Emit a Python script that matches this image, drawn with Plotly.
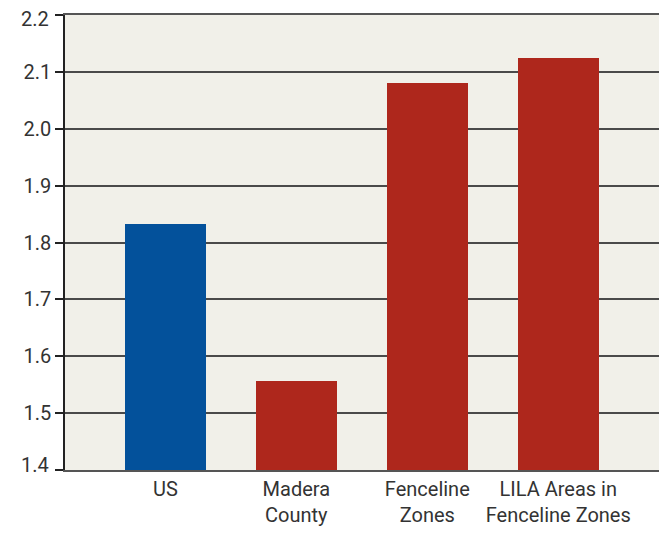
import plotly.graph_objects as go

# Data
categories = ["US", "Madera<br>County", "Fenceline<br>Zones", "LILA Areas in<br>Fenceline Zones"]
values = [1.833, 1.557, 2.081, 2.124]
colors = ["#03519B", "#AE271C", "#AE271C", "#AE271C"]
tick_vals = [1.4, 1.5, 1.6, 1.7, 1.8, 1.9, 2.0, 2.1, 2.2]
tick_text = ["1.4", "1.5", "1.6", "1.7", "1.8", "1.9", "2.0", "2.1", "2.2"]

fig = go.Figure(
    go.Bar(
        x=categories,
        y=values,
        marker=dict(color=colors, line=dict(width=0)),
        width=0.62,
    )
)

# page body adds an 8px offset, so the figure is a bit smaller than the window
fig.update_layout(
    width=659,
    height=527,
    margin=dict(l=57, r=2, t=7, b=65),
    paper_bgcolor="white",
    plot_bgcolor="#F1F0E9",
    font=dict(family="Roboto, sans-serif", size=20, color="#333333"),
    showlegend=False,
    bargap=0,
)

fig.update_xaxes(
    range=[-0.766, 3.815],
    showline=True,
    linecolor="#555555",
    linewidth=1.5,
    mirror=True,
    ticks="",
    automargin=False,
    ticklabeloverflow="allow",
    tickfont=dict(size=20, color="#333333"),
)

# end labels are nudged inward (as in the original), so draw them as annotations
inner_text = [""] + tick_text[1:-1] + [""]
fig.update_yaxes(
    range=[1.4, 2.2],
    tickvals=tick_vals,
    ticktext=inner_text,
    showgrid=True,
    gridcolor="#4a4a4a",
    gridwidth=1.5,
    showline=True,
    linecolor="#222222",
    linewidth=1.5,
    mirror=True,
    ticks="outside",
    ticklen=8,
    tickwidth=1.5,
    tickcolor="#222222",
    automargin=False,
    ticklabeloverflow="allow",
    tickfont=dict(size=20, color="#333333"),
    zeroline=False,
)

for val, txt, shift in [(tick_vals[0], tick_text[0], 5), (tick_vals[-1], tick_text[-1], -4)]:
    fig.add_annotation(
        x=0, xref="paper", xanchor="right", xshift=-14,
        y=val, yref="y", yanchor="middle", yshift=shift,
        text=txt, showarrow=False,
        font=dict(size=20, color="#333333"),
    )

fig.write_html("out.html")
